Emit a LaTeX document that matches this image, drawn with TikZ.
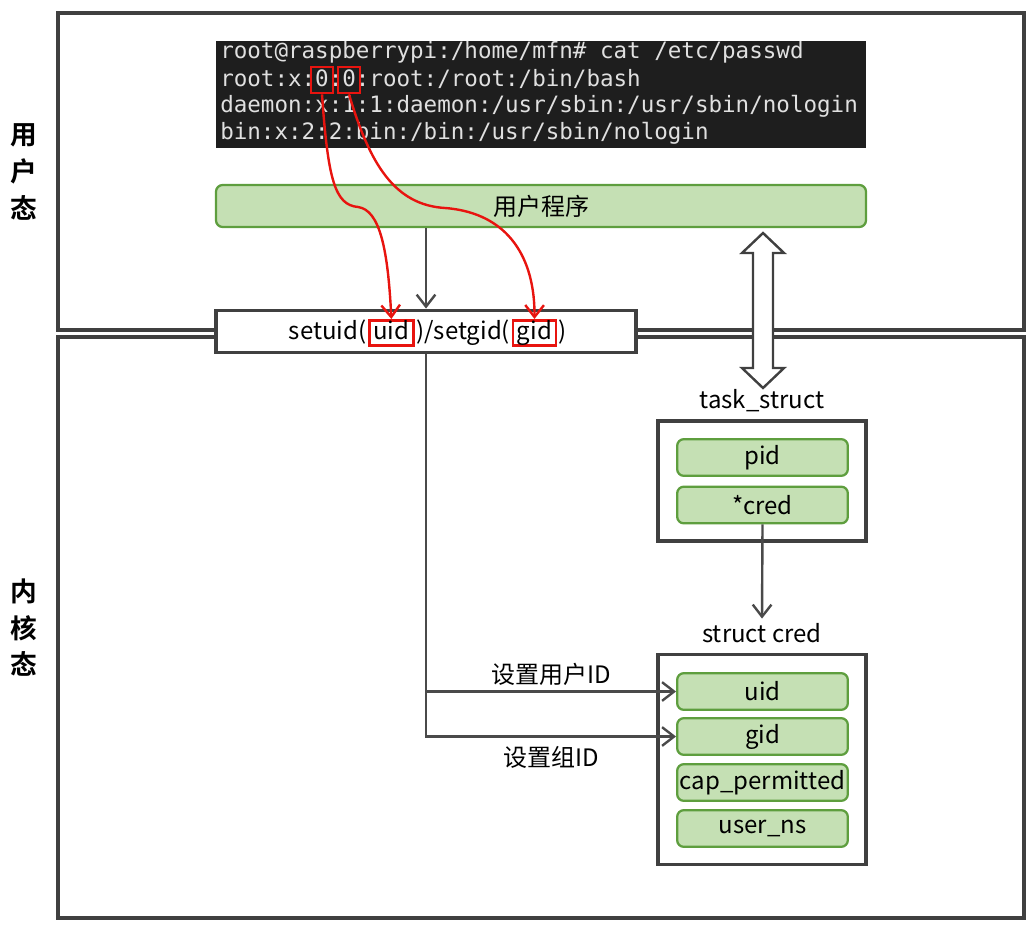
\documentclass[tikz,border=0pt]{standalone}
\usepackage{fontspec}
\setmainfont{Noto Sans CJK SC}[BoldFont={* Bold}]
\newfontfamily\termfont{DejaVu Sans Mono}
\usetikzlibrary{arrows.meta, positioning, calc}

\definecolor{framegray}{HTML}{404040}
\definecolor{linegray}{HTML}{4A4A4A}
\definecolor{boxgreen}{HTML}{C5E0B4}
\definecolor{edgegreen}{HTML}{5E9E3E}
\definecolor{termbg}{HTML}{1E1E1E}
\definecolor{termfg}{HTML}{E0E0E0}
\definecolor{markred}{HTML}{E8140F}

\begin{document}
\begin{tikzpicture}[x=0.75pt, y=-0.75pt,
    every node/.style={font=\fontsize{18}{21}\selectfont},
    frame/.style={draw=framegray, line width=2.4pt},
    side/.style={font=\fontsize{20}{27.4}\selectfont\bfseries, align=center},
    prog/.style={draw=edgegreen, fill=boxgreen, line width=1.7pt, rounded corners=5pt},
    field/.style={prog, minimum width=128pt, minimum height=27.5pt, inner sep=0pt},
    holder/.style={draw=framegray, fill=white, line width=2.4pt},
    part/.style={inner sep=1pt, text height=13pt, text depth=4pt},
    redmark/.style={part, draw=markred, line width=2pt, inner xsep=3pt},
    termline/.style={anchor=west, inner sep=0pt, text=termfg, font=\termfont\fontsize{16.9}{20}\selectfont},
    zeromark/.style={draw=markred, line width=2pt, minimum width=16.5pt, minimum height=19.5pt, inner sep=0pt},
    arr/.style={draw=linegray, line width=1.8pt, -{Straight Barb[length=9pt, width=14pt]}},
    redarr/.style={draw=markred, line width=1.8pt, -{Straight Barb[length=9pt, width=14pt]}}
]
    \useasboundingbox (0,0) rectangle (1030,924);

    % user space / kernel space
    \draw[frame] (58,13) rectangle (1024,330);
    \draw[frame] (58,337) rectangle (1024,918);
    \node[side] (usr) at (24,172) {用\\户\\态};
    \node[side] (krn) at (24,628) {内\\核\\态};

    % /etc/passwd
    \fill[termbg] (216,41) rectangle (866,148);
    \node[termline] (l1) at (220,52) {root@raspberrypi:/home/mfn\# cat /etc/passwd};
    \node[termline] (l2) at (220,79) {root:x:0:0:root:/root:/bin/bash};
    \node[termline] (l3) at (220,106) {daemon:x:1:1:daemon:/usr/sbin:/usr/sbin/nologin};
    \node[termline] (l4) at (220,133) {bin:x:2:2:bin:/bin:/usr/sbin/nologin};
    \node[zeromark] (zuid) at (322,80) {};
    \node[zeromark] (zgid) at (349,80) {};

    \node[prog, minimum width=487.5pt, minimum height=31.5pt] (app) at (541,206) {用户程序};

    % system call
    \node[holder, minimum width=315pt, minimum height=32pt] (sys) at (426,331.5) {};
    \node[part, anchor=east] (s1) at (368,333) {setuid(};
    \node[redmark, right=0pt of s1] (uidmark) {uid};
    \node[part, right=0pt of uidmark] (s2) {)/setgid(};
    \node[redmark, right=0pt of s2] (gidmark) {gid};
    \node[part, right=0pt of gidmark] (s3) {)};

    % user <-> kernel
    \draw[draw=framegray, fill=white, line width=1.8pt] (763,233) -- (784,253) -- (773,253) -- (773,368)
        -- (784,368) -- (763,388) -- (742,368) -- (753,368) -- (753,253) -- (742,253) -- cycle;

    % task_struct
    \node (tasklbl) at (762,401) {task\_struct};
    \node[holder, minimum width=156pt, minimum height=90pt] (task) at (762,481) {};
    \node[field] (pid) at (762.5,457.5) {pid};
    \node[field] (cred) at (762.5,505) {*cred};

    % struct cred
    \node (credlbl) at (762,633) {struct cred};
    \node[holder, minimum width=156pt, minimum height=158pt] (credbox) at (762,759.5) {};
    \node[field] (fuid) at (762.5,691.5) {uid};
    \node[field] (fgid) at (762.5,736.5) {gid};
    \node[field] (fcap) at (762.5,782.5) {cap\_permitted};
    \node[field] (fns) at (762.5,828.5) {user\_ns};

    \draw[arr] (app.south -| sys.north) -- (sys.north);
    \draw[arr] (cred.south) -- (credlbl.north);
    \draw[arr] (sys.south) |- node[pos=0.75, below=3pt] {设置组ID} (fgid.west);
    \draw[arr] (sys.south |- fuid.west) -- node[above] {设置用户ID} (fuid.west);

    \draw[redarr] (zuid.south) .. controls (328,180) and (335,205) .. (358,207)
        .. controls (380,210) and (388,250) .. (uidmark.north);
    \draw[redarr] (zgid.south) .. controls (370,165) and (395,205) .. (445,208)
        .. controls (510,213) and (535,260) .. (gidmark.north);
\end{tikzpicture}
\end{document}
